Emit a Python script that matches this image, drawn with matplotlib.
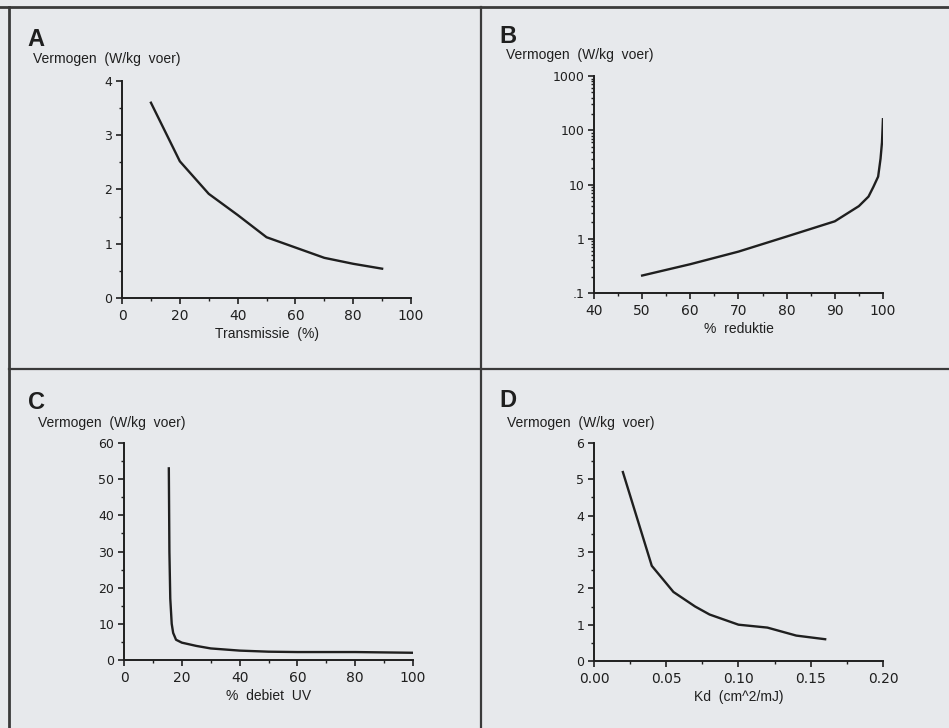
import matplotlib
matplotlib.use("Agg")
import matplotlib.pyplot as plt
from matplotlib.lines import Line2D
from matplotlib.ticker import MultipleLocator, FixedLocator, LogLocator, NullFormatter

plt.rcParams['font.family'] = ['Liberation Sans', 'DejaVu Sans']

# Paneel A: vermogen tegen transmissie
a_x = [10, 20, 30, 40, 50, 60, 70, 80, 90]
a_y = [3.6, 2.52, 1.92, 1.53, 1.12, 0.93, 0.74, 0.63, 0.54]

# Paneel B: vermogen tegen % reduktie (log-schaal)
b_x = [50, 60, 70, 80, 90, 95, 97, 98, 99, 99.5, 99.8, 100]
b_y = [0.21, 0.34, 0.58, 1.1, 2.1, 4.0, 6.0, 9.0, 14, 30, 60, 160]
b_ticks = [0.1, 1, 10, 100, 1000]
b_ticklabels = ['.1', '1', '10', '100', '1000']

# Paneel C: vermogen tegen % debiet UV
c_x = [15.5, 15.7, 16, 16.5, 17, 18, 20, 25, 30, 40, 50, 60, 80, 100]
c_y = [53, 30, 17, 10, 7.5, 5.6, 4.8, 3.9, 3.2, 2.6, 2.3, 2.2, 2.2, 2.0]

# Paneel D: vermogen tegen Kd
d_x = [0.02, 0.04, 0.055, 0.07, 0.08, 0.10, 0.12, 0.14, 0.16]
d_y = [5.2, 2.62, 1.9, 1.5, 1.28, 1.0, 0.92, 0.7, 0.6]

ylabel = "Vermogen  (W/kg  voer)"
ink = '#1f1f1f'
bg = '#e7e9ec'

fig = plt.figure(figsize=(9.49, 7.28), dpi=100, facecolor=bg)


def style(ax):
    ax.set_facecolor('none')
    for s in ['top', 'right']:
        ax.spines[s].set_visible(False)
    for s in ['left', 'bottom']:
        ax.spines[s].set_linewidth(1.4)
        ax.spines[s].set_color(ink)
    ax.tick_params(which='major', length=4, width=1.2, color=ink, labelcolor=ink)
    ax.tick_params(which='minor', length=2.5, width=1.0, color=ink)
    ax.tick_params(axis='x', which='major', pad=4)
    ax.tick_params(axis='y', which='major', pad=3)
    for lab in ax.get_xticklabels():
        lab.set_fontfamily('DejaVu Sans')
        lab.set_fontsize(10)
    for lab in ax.get_yticklabels():
        lab.set_fontfamily('DejaVu Sans')
        lab.set_fontsize(9)


def panel_text(letter, lx, ly, vx, vy):
    fig.text(lx / 949, 1 - ly / 728, letter, fontsize=17, fontweight='bold',
             color=ink, va='top', ha='left')
    fig.text(vx / 949, 1 - vy / 728, ylabel, fontsize=10, color=ink,
             va='top', ha='left')


# A
axA = fig.add_axes([0.1286, 0.5907, 0.3045, 0.298])
axA.plot(a_x, a_y, color=ink, lw=1.7)
axA.set_xlim(0, 100)
axA.set_ylim(0, 4)
axA.xaxis.set_major_locator(MultipleLocator(20))
axA.xaxis.set_minor_locator(MultipleLocator(10))
axA.yaxis.set_major_locator(MultipleLocator(1))
axA.yaxis.set_minor_locator(MultipleLocator(0.5))
style(axA)
axA.set_xlabel("Transmissie  (%)", fontsize=10, color=ink, labelpad=3)
panel_text("A", 27, 28, 33, 52)

# B
axB = fig.add_axes([0.6259, 0.5975, 0.3045, 0.298])
axB.plot(b_x, b_y, color=ink, lw=1.7)
axB.set_yscale('log')
axB.set_xlim(40, 100)
axB.set_ylim(0.1, 1000)
axB.xaxis.set_major_locator(MultipleLocator(10))
axB.xaxis.set_minor_locator(MultipleLocator(5))
axB.yaxis.set_major_locator(FixedLocator(b_ticks))
axB.set_yticklabels(b_ticklabels)
axB.yaxis.set_minor_locator(LogLocator(base=10, subs=range(2, 10)))
axB.yaxis.set_minor_formatter(NullFormatter())
style(axB)
axB.set_xlabel("%  reduktie", fontsize=10, color=ink, labelpad=3)
panel_text("B", 499, 25, 506, 48)

# C
axC = fig.add_axes([0.1307, 0.0934, 0.3045, 0.298])
axC.plot(c_x, c_y, color=ink, lw=1.7)
axC.set_xlim(0, 100)
axC.set_ylim(0, 60)
axC.xaxis.set_major_locator(MultipleLocator(20))
axC.xaxis.set_minor_locator(MultipleLocator(10))
axC.yaxis.set_major_locator(MultipleLocator(10))
axC.yaxis.set_minor_locator(MultipleLocator(5))
style(axC)
axC.set_xlabel("%  debiet  UV", fontsize=10, color=ink, labelpad=3)
panel_text("C", 28, 391, 38, 416)

# D
axD = fig.add_axes([0.6259, 0.092, 0.3045, 0.2995])
axD.plot(d_x, d_y, color=ink, lw=1.7)
axD.set_xlim(0, 0.2)
axD.set_ylim(0, 6)
axD.xaxis.set_major_locator(MultipleLocator(0.05))
axD.xaxis.set_minor_locator(MultipleLocator(0.025))
axD.yaxis.set_major_locator(MultipleLocator(1))
axD.yaxis.set_minor_locator(MultipleLocator(0.5))
axD.xaxis.set_major_formatter(plt.FormatStrFormatter('%.2f'))
style(axD)
axD.set_xlabel("Kd  (cm^2/mJ)", fontsize=10, color=ink, labelpad=3)
panel_text("D", 499, 389, 507, 416)

# kaderlijnen tussen de panelen
frame = '#3a3a3a'
fig.add_artist(Line2D([0, 1], [1 - 7 / 728] * 2, color=frame, lw=2))
fig.add_artist(Line2D([9 / 949] * 2, [0, 1 - 7 / 728], color=frame, lw=2))
fig.add_artist(Line2D([481 / 949] * 2, [0, 1 - 7 / 728], color=frame, lw=1.6))
fig.add_artist(Line2D([9 / 949, 1], [1 - 369 / 728] * 2, color=frame, lw=1.6))

fig.savefig("out.png", dpi=100, facecolor=bg)
